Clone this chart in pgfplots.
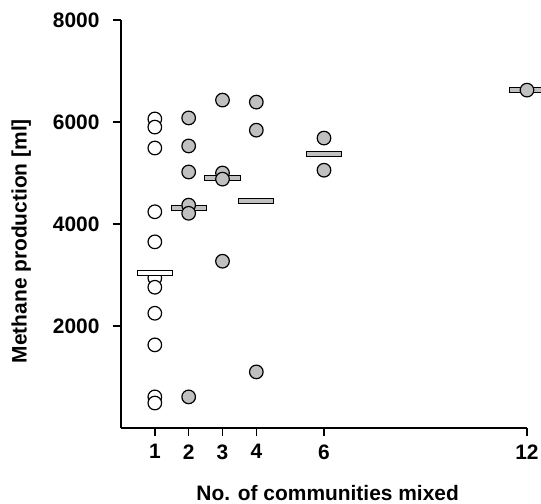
\documentclass[border=0pt]{standalone}
\usepackage{fontspec}
\setmainfont{Liberation Sans}
\usepackage{pgfplots}
\pgfplotsset{compat=1.18}
\definecolor{dotgray}{HTML}{C0C0C0}

% flat bar used for the group means
\pgfdeclareplotmark{meanbar}{%
  \pgfpathrectangle{\pgfpoint{-17.5bp}{-2.6bp}}{\pgfpoint{35bp}{5.2bp}}%
  \pgfusepathqfillstroke}

\begin{document}
\begin{tikzpicture}
\begin{axis}[
    at={(0,0)}, anchor=south west,
    scale only axis,
    width=406bp, height=408bp,
    xmin=0, xmax=12,
    ymin=0, ymax=8000,
    axis x line*=bottom, axis y line*=left,
    axis line style={line width=1.5bp, -},
    xtick={1,2,3,4,6,12},
    ytick={2000,4000,6000,8000},
    tick align=outside,
    major tick length=8bp,
    tick style={line width=1.5bp, black},
    font=\fontsize{21}{25}\selectfont\bfseries,
    /pgf/number format/assume math mode=true,
    /pgf/number format/1000 sep={},
    yticklabel style={xshift=-10bp},
    xticklabel style={yshift=-5bp},
    xlabel={No. of communities mixed},
    ylabel={Methane production [ml]},
    xlabel style={at={(axis description cs:0.509,-0.159)}, anchor=center},
    ylabel style={at={(axis description cs:-0.246,0.458)}, anchor=center},
    clip=false,
]
% single communities (open circles)
\addplot[only marks, mark=*, mark size=6.8bp,
  mark options={fill=white, draw=black, line width=1.2bp}] coordinates {
  (1,6060) (1,5900) (1,5490) (1,4240) (1,3650) (1,2940) (1,2760)
  (1,2250) (1,1630) (1,610) (1,490)};
% means
\addplot[only marks, mark=meanbar,
  mark options={fill=white, draw=black, line width=1bp}] coordinates {(1,3040)};
\addplot[only marks, mark=meanbar,
  mark options={fill=dotgray, draw=black, line width=1bp}] coordinates {
  (2,4310) (3,4900) (4,4445) (6,5370) (12,6625)};
% mixed communities (grey circles)
\addplot[only marks, mark=*, mark size=6.8bp,
  mark options={fill=dotgray, draw=black, line width=1.2bp}] coordinates {
  (2,6080) (2,5530) (2,5020) (2,4370) (2,4210) (2,610)
  (3,6430) (3,5000) (3,4880) (3,3270)
  (4,6390) (4,5840) (4,1100)
  (6,5685) (6,5055)
  (12,6625)};
\end{axis}
\pgfresetboundingbox
\path[use as bounding box] (-121bp,-76bp) rectangle (420bp,428bp);
\end{tikzpicture}
\end{document}
